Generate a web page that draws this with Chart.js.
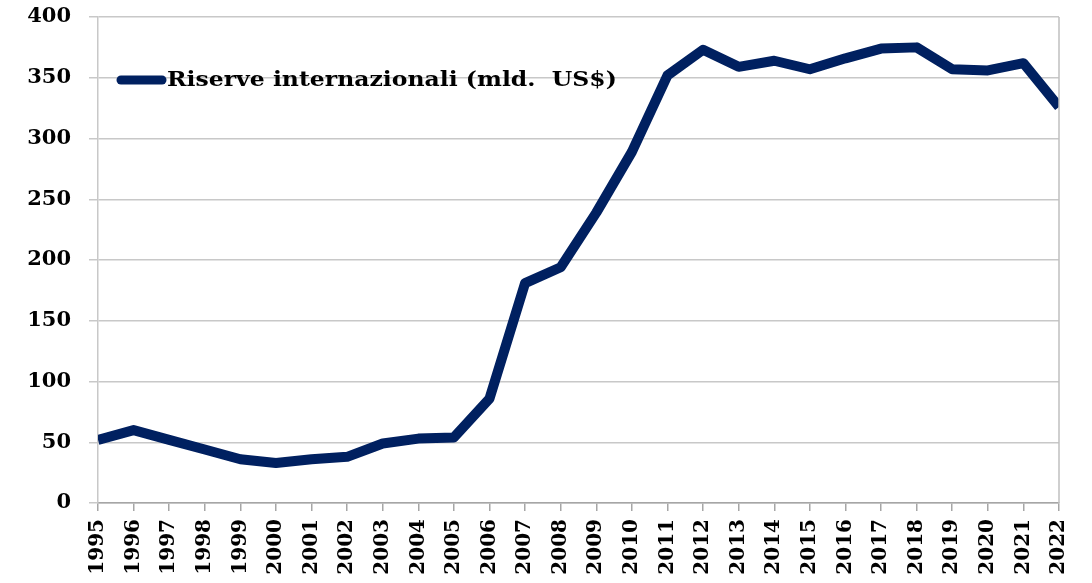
<!DOCTYPE html>
<html>
<head>
<meta charset="utf-8">
<script src="https://cdn.jsdelivr.net/npm/chart.js@4/dist/chart.umd.min.js"></script>
<style>
  html, body { margin: 0; padding: 0; background: #fff; }
  #grafico { display: block; }
</style>
</head>
<body>
<canvas id="grafico" width="1092" height="583"></canvas>
<script>
// Dati
var anni = ['1995','1996','1997','1998','1999','2000','2001','2002','2003','2004',
            '2005','2006','2007','2008','2009','2010','2011','2012','2013','2014',
            '2015','2016','2017','2018','2019','2020','2021','2022'];
var riserve = [52, 60, 52, 44, 36, 33, 36, 38, 49, 53,
               54, 86, 181, 194, 239, 289, 352, 373, 359, 364,
               357, 366, 374, 375, 357, 356, 362, 326];
var tickY = [0, 50, 100, 150, 200, 250, 300, 350, 400];
var nomeSerie = 'Riserve internazionali (mld.  US$)';

var fonte = 'DejaVu Serif';
var blu = '#002060';

// legenda disegnata dentro l'area del grafico, in alto a sinistra
var legendaInterna = {
  id: 'legendaInterna',
  afterDraw: function(chart) {
    var ctx = chart.ctx;
    var area = chart.chartArea;
    var x0 = area.left + 19;
    var y0 = area.top + 63;
    ctx.save();
    ctx.strokeStyle = blu;
    ctx.lineWidth = 9;
    ctx.lineCap = 'round';
    ctx.beginPath();
    ctx.moveTo(x0 + 4, y0);
    ctx.lineTo(x0 + 45, y0);
    ctx.stroke();
    ctx.fillStyle = '#000';
    ctx.font = 'bold 21px "' + fonte + '"';
    ctx.textBaseline = 'middle';
    // il testo originale e' un po' allargato in orizzontale
    ctx.translate(x0 + 50, y0 + 1);
    ctx.scale(1.12, 1);
    ctx.fillText(chart.data.datasets[0].label, 0, 0);
    ctx.restore();

    // bordo destro dell'area
    ctx.save();
    ctx.strokeStyle = '#bfbfbf';
    ctx.lineWidth = 1.5;
    ctx.beginPath();
    ctx.moveTo(area.right, area.top);
    ctx.lineTo(area.right, area.bottom);
    ctx.stroke();
    ctx.restore();
  }
};

var ctx = document.getElementById('grafico').getContext('2d');
new Chart(ctx, {
  type: 'line',
  data: {
    labels: anni,
    datasets: [{
      label: nomeSerie,
      data: riserve,
      borderColor: blu,
      backgroundColor: blu,
      borderWidth: 10,
      tension: 0,
      pointRadius: 0,
      borderJoinStyle: 'round',
      borderCapStyle: 'butt',
      clip: 0,
      fill: false
    }]
  },
  options: {
    responsive: false,
    animation: false,
    layout: { padding: { left: 0, top: 17, right: 33, bottom: 0 } },
    plugins: {
      legend: { display: false },
      tooltip: { enabled: false }
    },
    scales: {
      x: {
        offset: false,
        grid: {
          drawOnChartArea: false,
          color: '#a6a6a6',
          tickLength: 8,
          lineWidth: 1.5
        },
        border: { color: '#a6a6a6', width: 1.5 },
        ticks: {
          color: '#000',
          font: { family: fonte, size: 20, weight: 'bold' },
          minRotation: 90,
          maxRotation: 90,
          autoSkip: false,
          padding: 8
        },
        afterFit: function(scale) { scale.height = 80; }
      },
      y: {
        min: 0,
        max: 400,
        afterBuildTicks: function(scale) {
          scale.ticks = tickY.map(function(v) { return { value: v }; });
        },
        grid: {
          color: '#c8c8c8',
          lineWidth: 1.5,
          tickLength: 9
        },
        border: { color: '#c8c8c8', width: 1.5 },
        ticks: {
          color: '#000',
          font: { family: fonte, size: 21, weight: 'bold' },
          padding: 18
        },
        afterFit: function(scale) {
          scale.width = 98;
          scale.paddingTop = 0;
          scale.paddingBottom = 0;
        }
      }
    }
  },
  plugins: [legendaInterna]
});
</script>
</body>
</html>
